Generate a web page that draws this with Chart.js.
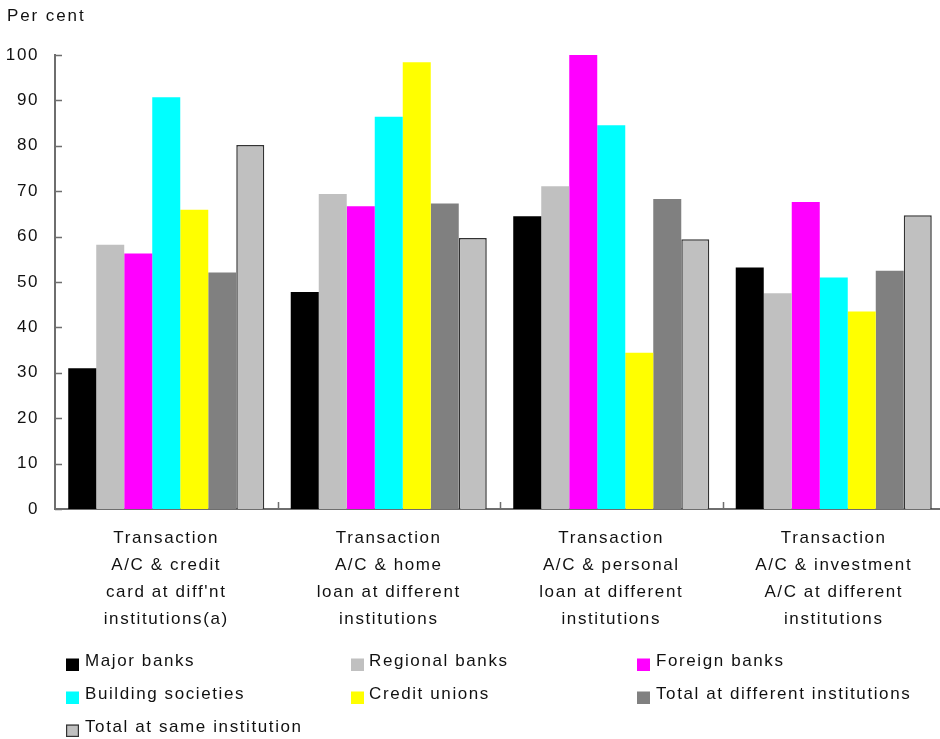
<!DOCTYPE html>
<html>
<head>
<meta charset="utf-8">
<title>Multiple institution relationships</title>
<script src="https://cdn.jsdelivr.net/npm/chart.js@4.4.1/dist/chart.umd.min.js"></script>
<style>
  html, body { margin: 0; padding: 0; background: #fff; overflow: hidden; }
  #wrap { position: relative; width: 945px; height: 739px; }
</style>
</head>
<body>
<div id="wrap"><canvas id="chart" width="945" height="739"></canvas></div>
<script>
// Categories (multi-line x labels)
const categories = [
    ['Transaction', 'A/C & credit', "card at diff'nt", 'institutions(a)'],
    ['Transaction', 'A/C & home', 'loan at different', 'institutions'],
    ['Transaction', 'A/C & personal', 'loan at different', 'institutions'],
    ['Transaction', 'A/C & investment', 'A/C at different', 'institutions']
];

// Series values, per cent
const majorBanks = [31, 47.8, 64.5, 53.2];
const regionalBanks = [58.2, 69.4, 71.1, 47.5];
const foreignBanks = [56.3, 66.7, 100, 67.6];
const buildingSocieties = [90.7, 86.4, 84.5, 51];
const creditUnions = [65.9, 98.4, 34.4, 43.5];
const totalDifferent = [52.1, 67.3, 68.3, 52.5];
const totalSame = [80.2, 59.7, 59.4, 64.7];

// Axis ticks
const yTicks = [0, 10, 20, 30, 40, 50, 60, 70, 80, 90, 100];

const FONT = "'Liberation Sans', Arial, Helvetica, sans-serif";
const TEXT = '#111111';
const AXIS = '#6e6e6e';
const SPACING = '1.6px';

const series = [
    { label: 'Major banks', data: majorBanks, color: '#000000' },
    { label: 'Regional banks', data: regionalBanks, color: '#c0c0c0' },
    { label: 'Foreign banks', data: foreignBanks, color: '#ff00ff' },
    { label: 'Building societies', data: buildingSocieties, color: '#00ffff' },
    { label: 'Credit unions', data: creditUnions, color: '#ffff00' },
    { label: 'Total at different institutions', data: totalDifferent, color: '#808080' },
    { label: 'Total at same institution', data: totalSame, color: '#c0c0c0', border: '#333333' }
];

// Legend grid: three columns, three rows
const legendCols = [{ box: 66, text: 85 }, { box: 351, text: 369 }, { box: 637, text: 656 }];
const legendRows = [666, 699, 732];

// canvas letter spacing is state that gets reset on resize
const letterSpacing = {
    id: 'letterSpacing',
    beforeUpdate(chart) { chart.ctx.letterSpacing = SPACING; },
    beforeDraw(chart) { chart.ctx.letterSpacing = SPACING; }
};

// short tick marks pointing into the plot area
const innerTicks = {
    id: 'innerTicks',
    afterDatasetsDraw(chart) {
        const { ctx, chartArea, scales: { x, y } } = chart;
        ctx.save();
        ctx.strokeStyle = AXIS;
        ctx.lineWidth = 1.5;
        ctx.beginPath();
        yTicks.forEach(v => {
            const py = Math.round(y.getPixelForValue(v)) + 0.5;
            ctx.moveTo(chartArea.left, py);
            ctx.lineTo(chartArea.left + 7, py);
        });
        for (let i = 1; i < categories.length; i++) {
            const px = Math.round((x.getPixelForValue(i - 1) + x.getPixelForValue(i)) / 2) + 0.5;
            ctx.moveTo(px, chartArea.bottom);
            ctx.lineTo(px, chartArea.bottom - 7);
        }
        ctx.stroke();
        ctx.restore();
    }
};

// "Per cent" caption and the column legend
const captions = {
    id: 'captions',
    afterDraw(chart) {
        const ctx = chart.ctx;
        ctx.save();
        ctx.font = '17px ' + FONT;
        ctx.fillStyle = TEXT;
        ctx.textBaseline = 'alphabetic';
        ctx.textAlign = 'left';
        ctx.letterSpacing = '1.9px';
        ctx.fillText('Per cent', 7, 21);

        ctx.letterSpacing = SPACING;
        chart.data.datasets.forEach((ds, i) => {
            const col = legendCols[i % 3];
            const base = legendRows[Math.floor(i / 3)];
            ctx.fillStyle = ds.backgroundColor;
            ctx.fillRect(col.box, base - 7.5, 13, 12.5);
            if (ds.borderWidth) {
                ctx.strokeStyle = ds.borderColor;
                ctx.lineWidth = 1.2;
                ctx.strokeRect(col.box + 0.6, base - 6.9, 11.8, 11.3);
            }
            ctx.fillStyle = TEXT;
            ctx.fillText(ds.label, col.text, base);
        });
        ctx.restore();
    }
};

new Chart(document.getElementById('chart'), {
    type: 'bar',
    data: {
        labels: categories,
        datasets: series.map(s => ({
            label: s.label,
            data: s.data,
            backgroundColor: s.color,
            borderColor: s.border || s.color,
            borderWidth: s.border ? 1.5 : 0,
            categoryPercentage: 0.881,
            barPercentage: 1
        }))
    },
    options: {
        responsive: false,
        animation: false,
        events: [],
        layout: { padding: { top: 55, right: 0, bottom: 100, left: 0 } },
        plugins: {
            legend: { display: false },
            tooltip: { enabled: false },
            title: { display: false }
        },
        scales: {
            x: {
                grid: { display: false, drawTicks: false },
                border: { display: true, color: AXIS, width: 2 },
                ticks: {
                    color: TEXT,
                    font: { family: FONT, size: 17, lineHeight: '27px' },
                    padding: 16,
                    maxRotation: 0,
                    autoSkip: false
                },
                afterFit(scale) { scale.height = 130; }
            },
            y: {
                min: 0,
                max: 100,
                afterBuildTicks(scale) { scale.ticks = yTicks.map(v => ({ value: v })); },
                grid: { display: false, drawTicks: false },
                border: { display: true, color: AXIS, width: 2 },
                ticks: {
                    color: TEXT,
                    font: { family: FONT, size: 17 },
                    padding: 16
                },
                afterFit(scale) { scale.width = 55; }
            }
        }
    },
    plugins: [letterSpacing, innerTicks, captions]
});
</script>
</body>
</html>
